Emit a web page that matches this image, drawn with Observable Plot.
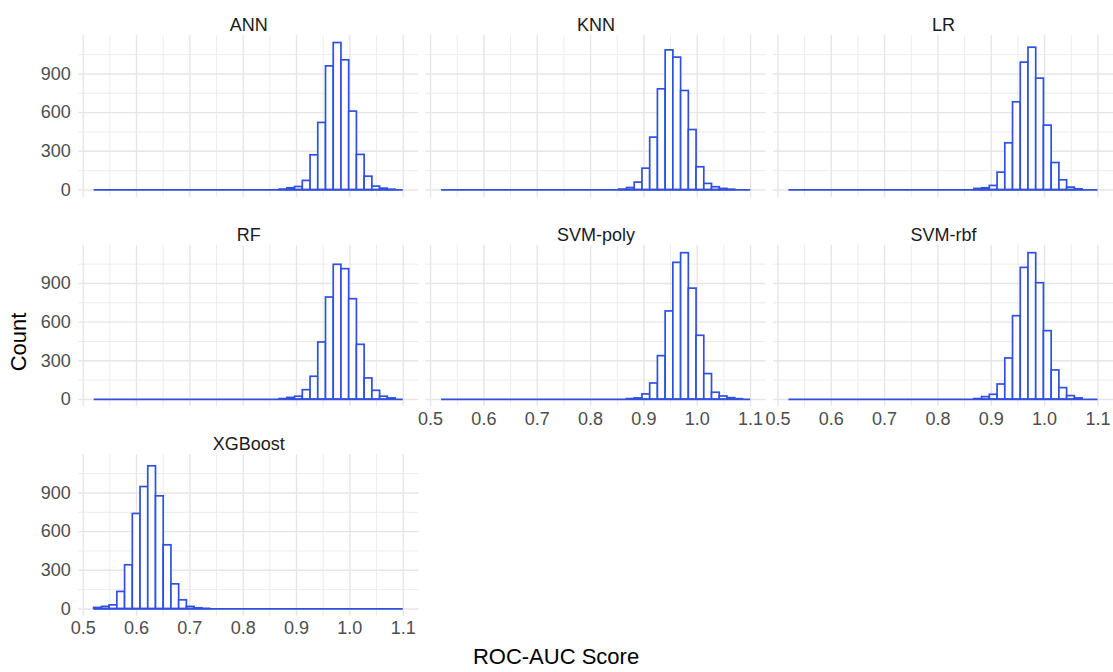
<!DOCTYPE html>
<html>
<head>
<meta charset="utf-8">
<script src="https://cdn.jsdelivr.net/npm/d3@7"></script>
<script src="https://cdn.jsdelivr.net/npm/@observablehq/plot@0.6"></script>
<style>
  html, body { margin: 0; padding: 0; background: #ffffff; }
  #chart { width: 1113px; height: 672px; }
</style>
</head>
<body>
<div id="chart"></div>
<script>
// ---- Data ----
const models = ["ANN", "KNN", "LR", "RF", "SVM-poly", "SVM-rbf", "XGBoost"];

// 40 histogram bins: first edge and bin width (ROC-AUC units)
const binStart = 0.5206;
const binWidth = 0.01449;

// Counts per bin (bin 0 .. bin 39) for each model
const annCounts     = [0,0,0,0,0,0,0,0,0,0, 0,0,0,0,0,0,0,0,0,0, 0,0,0,0,3,13,23,70,269,520, 959,1140,1006,608,272,103,26,10,2,0];
const knnCounts     = [0,0,0,0,0,0,0,0,0,0, 0,0,0,0,0,0,0,0,0,0, 0,0,0,3,15,57,165,406,781,1083, 1027,768,465,176,47,21,8,2,0,0];
const lrCounts      = [0,0,0,0,0,0,0,0,0,0, 0,0,0,0,0,0,0,0,0,0, 0,0,0,0,8,13,31,134,362,680, 988,1104,864,499,209,75,18,5,0,0];
const rfCounts      = [0,0,0,0,0,0,0,0,0,0, 0,0,0,0,0,0,0,0,0,0, 0,0,0,0,3,12,21,72,176,442, 791,1045,1011,778,424,163,67,21,8,0];
const svmPolyCounts = [0,0,0,0,0,0,0,0,0,0, 0,0,0,0,0,0,0,0,0,0, 0,0,0,0,3,8,39,124,336,683, 1060,1135,860,494,197,52,23,10,2,0];
const svmRbfCounts  = [0,0,0,0,0,0,0,0,0,0, 0,0,0,0,0,0,0,0,0,0, 0,0,0,0,3,18,36,116,318,646, 1021,1135,902,530,225,88,26,8,0,0];
const xgbCounts     = [8,16,28,132,339,737,946,1107,874,494, 191,67,16,5,1,0,0,0,0,0, 0,0,0,0,0,0,0,0,0,0, 0,0,0,0,0,0,0,0,0,0];

const countsByModel = [annCounts, knnCounts, lrCounts, rfCounts, svmPolyCounts, svmRbfCounts, xgbCounts];

// Tick values and labels
const xTicks = [0.5, 0.6, 0.7, 0.8, 0.9, 1.0, 1.1];
const xTickLabels = ["0.5", "0.6", "0.7", "0.8", "0.9", "1.0", "1.1"];
const xMinorTicks = [0.55, 0.65, 0.75, 0.85, 0.95, 1.05];
const yTicks = [0, 300, 600, 900];
const yTickLabels = ["0", "300", "600", "900"];
const yMinorTicks = [150, 450, 750, 1050];

// Panels that carry tick labels (as in the reference)
const xAxisPanels = ["SVM-poly", "SVM-rbf", "XGBoost"];
const yAxisPanels = ["ANN", "RF", "XGBoost"];

const xTitle = "ROC-AUC Score";
const yTitle = "Count";

// ---- Build tables for the library ----
const nBins = annCounts.length;
const edges = d3.range(nBins + 1).map(i => binStart + i * binWidth);
const panels = models.map((m, i) => ({model: m, col: i % 3, row: Math.floor(i / 3)}));
const panelOf = Object.fromEntries(panels.map(p => [p.model, p]));

const bars = [];
panels.forEach((p, i) => {
  countsByModel[i].forEach((c, k) => {
    if (c > 0) bars.push({...p, x1: edges[k], x2: edges[k + 1], count: c});
  });
});
const baselines = panels.map(p => ({...p, x1: edges[0], x2: edges[nBins]}));

const cross = (ps, vals) => ps.flatMap(p => vals.map((v, j) => ({...p, v, j})));
const gridXMajor = cross(panels, xTicks);
const gridXMinor = cross(panels, xMinorTicks);
const gridYMajor = cross(panels, yTicks);
const gridYMinor = cross(panels, yMinorTicks);
const xLabelRows = cross(xAxisPanels.map(m => panelOf[m]), xTicks);
const yLabelRows = cross(yAxisPanels.map(m => panelOf[m]), yTicks);

const blue = "#3050e0";
const gridColor = "#e6e6e6";
const font = "'Liberation Sans', Arial, Helvetica, sans-serif";

const fxy = {fx: "col", fy: "row"};

const chart = Plot.plot({
  width: 1113,
  height: 672,
  marginLeft: 78.2,
  marginRight: 0,
  marginTop: 35.2,
  marginBottom: 56.2,
  facet: {marginTop: 0, marginRight: 0, marginBottom: 0, marginLeft: 0},
  fx: {domain: [0, 1, 2], axis: null, paddingInner: 0.0211, paddingOuter: 0, round: false},
  fy: {domain: [0, 1, 2], axis: null, paddingInner: 0.2287, paddingOuter: 0, round: false},
  x: {domain: [0.4916, 1.1292], axis: null},
  y: {domain: [-57, 1197], axis: null},
  style: {fontFamily: font, background: "#ffffff", overflow: "visible"},
  marks: [
    Plot.ruleX(gridXMinor, {...fxy, x: "v", stroke: "#ececec", strokeWidth: 1}),
    Plot.ruleY(gridYMinor, {...fxy, y: "v", stroke: "#ececec", strokeWidth: 1}),
    Plot.ruleX(gridXMajor, {...fxy, x: "v", stroke: gridColor, strokeWidth: 1.4}),
    Plot.ruleY(gridYMajor, {...fxy, y: "v", stroke: gridColor, strokeWidth: 1.4}),
    Plot.ruleY(baselines, {...fxy, y: () => 0, x1: "x1", x2: "x2", stroke: blue, strokeWidth: 1.7}),
    Plot.rect(bars, {...fxy, x1: "x1", x2: "x2", y1: () => 0, y2: "count", fill: "#ffffff", stroke: blue, strokeWidth: 1.7}),
    Plot.text(panels, {...fxy, text: "model", frameAnchor: "top", dy: -17, fontSize: 18, fill: "#1a1a1a"}),
    Plot.text(xLabelRows, {...fxy, x: "v", text: d => xTickLabels[d.j], frameAnchor: "bottom", dy: 18, fontSize: 18, fill: "#4d4d4d"}),
    Plot.text(yLabelRows, {...fxy, y: "v", text: d => yTickLabels[d.j], frameAnchor: "left", dx: -8, textAnchor: "end", fontSize: 18, fill: "#4d4d4d"})
  ]
});

// Axis titles
const svg = d3.select(chart);
svg.append("text")
  .attr("x", 556).attr("y", 658)
  .attr("text-anchor", "middle").attr("dominant-baseline", "middle")
  .attr("font-size", 22).attr("font-family", font).attr("fill", "#000")
  .text(xTitle);
svg.append("text")
  .attr("transform", "translate(20,342) rotate(-90)")
  .attr("text-anchor", "middle").attr("dominant-baseline", "middle")
  .attr("font-size", 22).attr("font-family", font).attr("fill", "#000")
  .text(yTitle);

document.getElementById("chart").appendChild(chart);
</script>
</body>
</html>
